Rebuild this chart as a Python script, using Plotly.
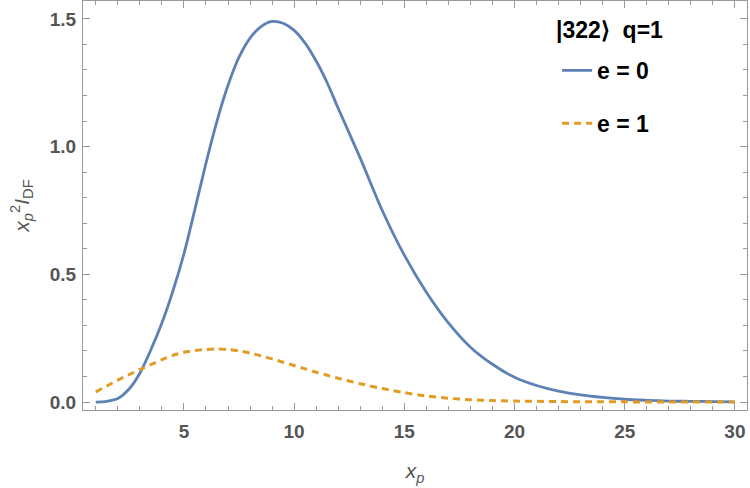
import plotly.graph_objects as go

# Data
x_vals = [1, 1.5, 2, 2.5, 3, 3.5, 4, 4.5, 5, 5.5, 6, 6.5, 7, 7.5, 8, 8.5, 9, 9.5, 10, 10.5, 11, 11.5, 12, 13, 14,
          15, 16, 17, 18, 19, 20, 21, 22, 23, 24, 25, 26, 27, 28, 29, 30]
e0_vals = [0.0, 0.003, 0.014, 0.05, 0.113, 0.205, 0.31, 0.435, 0.58, 0.755, 0.935, 1.10, 1.24, 1.35, 1.425, 1.47,
           1.49, 1.483, 1.455, 1.405, 1.335, 1.25, 1.15, 0.955, 0.75, 0.575, 0.43, 0.31, 0.215, 0.148, 0.097,
           0.065, 0.043, 0.028, 0.018, 0.011, 0.007, 0.004, 0.003, 0.002, 0.001]
e1_vals = [0.040, 0.063, 0.086, 0.107, 0.127, 0.147, 0.166, 0.183, 0.195, 0.202, 0.206, 0.208, 0.206, 0.200, 0.192,
           0.181, 0.169, 0.156, 0.143, 0.130, 0.117, 0.105, 0.093, 0.072, 0.053, 0.037, 0.024, 0.015, 0.009,
           0.006, 0.004, 0.003, 0.002, 0.001, 0.001, 0.001, 0.0, 0.0, 0.0, 0.0, 0.0]
series_names = ["e = 0", "e = 1"]
legend_title = "|322\u27e9  q=1"
x_ticks = [5, 10, 15, 20, 25, 30]
y_ticks = [0.0, 0.5, 1.0, 1.5]
y_ticklabels = ["0.0", "0.5", "1.0", "1.5"]

BLUE = "#5E81B5"
ORANGE = "#E19C24"
GRAY = "#999999"
LABEL = "#555555"
FONT = "Liberation Sans, Arial, sans-serif"

fig = go.Figure()
fig.add_trace(go.Scatter(x=x_vals, y=e0_vals, mode="lines", name=series_names[0],
                         line=dict(color=BLUE, width=2.8, shape="spline", smoothing=0.8),
                         legendgroup="a"))
fig.add_trace(go.Scatter(x=x_vals, y=e1_vals, mode="lines", name=series_names[1],
                         line=dict(color=ORANGE, width=3, dash="7px,5px", shape="spline", smoothing=0.8),
                         legendgroup="b"))

axis_common = dict(showline=True, linecolor=GRAY, linewidth=1.3, mirror="ticks",
                   ticks="inside", tickcolor=GRAY, tickwidth=1, ticklen=7,
                   showgrid=False, zeroline=False,
                   tickfont=dict(family=FONT, size=19, color=LABEL, weight="bold"))

fig.update_xaxes(range=[0.42, 30.55], tickvals=x_ticks, ticklabelstandoff=4,
                 minor=dict(dtick=1, tick0=0, ticks="inside", ticklen=4, tickcolor=GRAY, showgrid=False),
                 title=dict(text="<i>x</i><sub><i>p</i></sub>", standoff=22,
                            font=dict(family=FONT, size=21, color=LABEL)),
                 **axis_common)
fig.update_yaxes(range=[-0.031, 1.57], tickvals=y_ticks, ticktext=y_ticklabels, ticklabelstandoff=2,
                 minor=dict(dtick=0.1, tick0=0, ticks="inside", ticklen=4, tickcolor=GRAY, showgrid=False),
                 title=dict(text="<i>x</i><sub><i>p</i></sub><sup>2</sup><i>I</i><sub>DF</sub>", standoff=14,
                            font=dict(family=FONT, size=21, color=LABEL)),
                 **axis_common)

fig.add_annotation(text=legend_title, xref="paper", yref="paper", x=0.709, y=0.929,
                   xanchor="left", yanchor="middle", showarrow=False,
                   font=dict(family=FONT, size=23, color="black", weight="bold"))

fig.update_layout(
    width=750, height=488,
    margin=dict(l=83, r=3, t=1, b=78),
    plot_bgcolor="white", paper_bgcolor="white",
    legend=dict(x=0.714, y=0.883, xanchor="left", yanchor="top",
                font=dict(family=FONT, size=23, color="black", weight="bold"),
                itemwidth=30, tracegroupgap=20, bgcolor="rgba(0,0,0,0)"),
)

fig.write_html("out.html")
